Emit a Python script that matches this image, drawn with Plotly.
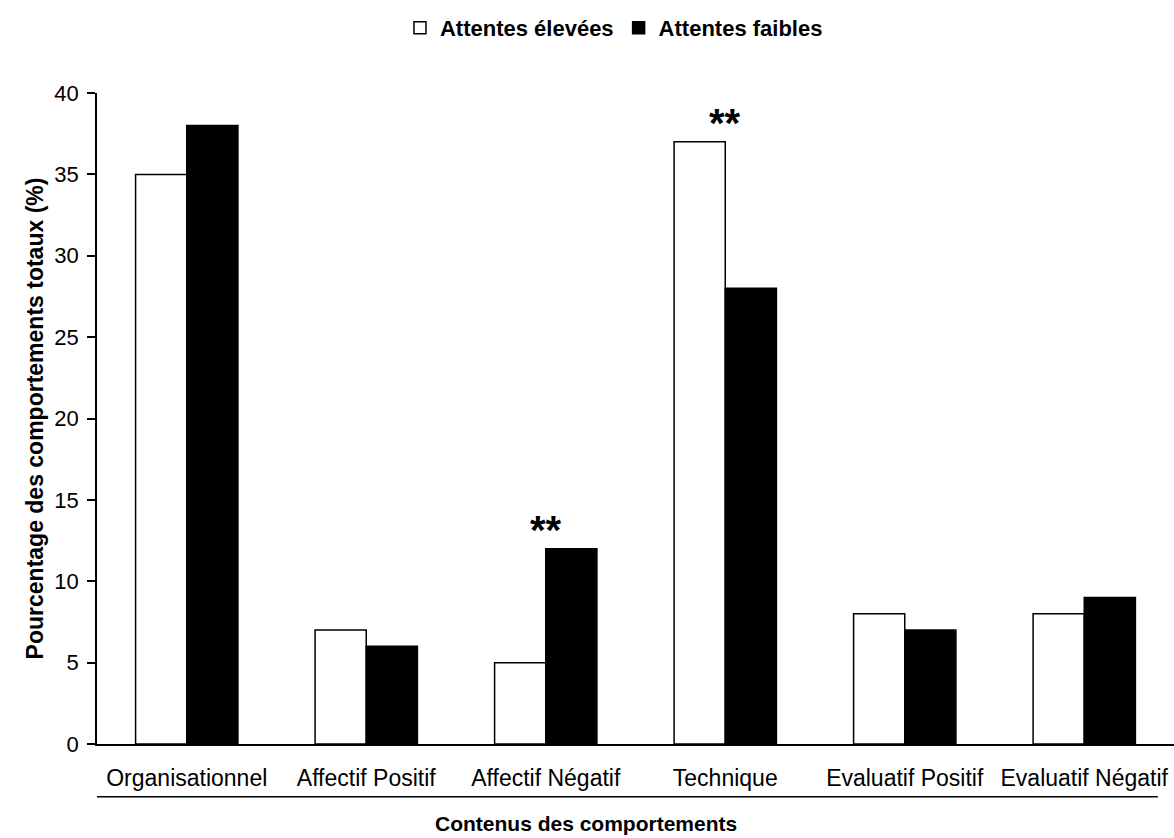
import plotly.graph_objects as go

categories = ["Organisationnel", "Affectif Positif", "Affectif Négatif",
              "Technique", "Evaluatif Positif", "Evaluatif Négatif"]
attentes_elevees = [35, 7, 5, 37, 8, 8]
attentes_faibles = [38, 6, 12, 28, 7, 9]
significant = ["Affectif Négatif", "Technique"]
y_ticks = [0, 5, 10, 15, 20, 25, 30, 35, 40]

FONT = "Liberation Sans, Arial, sans-serif"

fig = go.Figure()
fig.add_trace(go.Bar(
    x=categories, y=attentes_elevees, name="Attentes élevées",
    marker=dict(color="white", line=dict(color="black", width=1.5)),
))
fig.add_trace(go.Bar(
    x=categories, y=attentes_faibles, name="Attentes faibles",
    marker=dict(color="black", line=dict(color="black", width=1.5)),
))

# significance markers above the taller bar of each flagged category
for cat in significant:
    i = categories.index(cat)
    top = max(attentes_elevees[i], attentes_faibles[i])
    fig.add_annotation(
        x=cat, y=top, yref="y", text="<b>**</b>", showarrow=False,
        yanchor="middle", yshift=19,
        font=dict(family=FONT, size=40, color="black"),
    )

# rule between category labels and axis title
fig.add_shape(type="line", xref="paper", yref="paper",
              x0=0, x1=0.985, y0=-0.081, y1=-0.081,
              line=dict(color="black", width=1.5))

# x-axis title, set as a free annotation below the rule
fig.add_annotation(
    xref="paper", yref="paper", x=0.454, y=-0.122, yanchor="middle",
    text="<b>Contenus des comportements</b>", showarrow=False,
    font=dict(family=FONT, size=21, color="black"),
    borderpad=0,
)

fig.update_layout(
    width=1174, height=838,
    margin=dict(l=97, r=0, t=93, b=94, autoexpand=False),
    paper_bgcolor="white", plot_bgcolor="white",
    barmode="group", bargap=0.43, bargroupgap=0,
    font=dict(family=FONT, color="black"),
    showlegend=True,
    legend=dict(
        orientation="h", x=0.48, xanchor="center", y=1.1, yanchor="middle",
        font=dict(family=FONT, size=22, color="black", weight="bold"),
        itemwidth=30, tracegroupgap=0, traceorder="normal",
    ),
    xaxis=dict(
        showline=True, linecolor="black", linewidth=1.5,
        ticks="", showgrid=False, tickfont=dict(size=23),
        ticklabelstandoff=13, automargin=False,
    ),
    yaxis=dict(
        range=[0, 40], tickvals=y_ticks,
        showline=True, linecolor="black", linewidth=1.5,
        ticks="outside", ticklen=8, tickwidth=1.5, tickcolor="black",
        showgrid=False, zeroline=False, tickfont=dict(size=22),
        ticklabelstandoff=4, automargin=False,
        title=dict(text="<b>Pourcentage des comportements totaux (%)</b>",
                   font=dict(size=23), standoff=4),
    ),
)

fig.write_html("out.html")
